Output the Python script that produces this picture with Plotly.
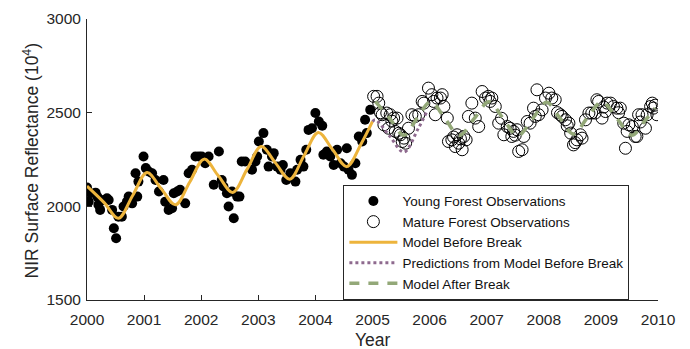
import plotly.graph_objects as go

# Young forest observations (2000-2005): decimal year, NIR reflectance (x10^4)
young_year = [2000.00, 2000.03, 2000.06, 2000.15, 2000.18, 2000.20, 2000.23, 2000.29, 2000.35, 2000.38,
              2000.44, 2000.47, 2000.51, 2000.55, 2000.61, 2000.64, 2000.70, 2000.73, 2000.79, 2000.85,
              2000.88, 2000.90, 2000.99, 2001.03, 2001.08, 2001.14, 2001.20, 2001.26, 2001.34, 2001.37,
              2001.43, 2001.49, 2001.52, 2001.58, 2001.63, 2001.72, 2001.78, 2001.84, 2001.90, 2001.96,
              2002.01, 2002.07, 2002.13, 2002.22, 2002.31, 2002.36, 2002.39, 2002.45, 2002.48, 2002.54,
              2002.57, 2002.63, 2002.67, 2002.71, 2002.77, 2002.89, 2002.95, 2002.98, 2003.01, 2003.09,
              2003.15, 2003.18, 2003.24, 2003.27, 2003.33, 2003.39, 2003.43, 2003.49, 2003.56, 2003.65,
              2003.68, 2003.74, 2003.79, 2003.84, 2003.88, 2003.94, 2004.00, 2004.06, 2004.12, 2004.14,
              2004.20, 2004.26, 2004.32, 2004.38, 2004.44, 2004.50, 2004.55, 2004.58, 2004.64, 2004.70,
              2004.76, 2004.82, 2004.87, 2004.90, 2004.96]
young_nir = [2100, 2025, 2070, 2073, 2052, 2008, 1981, 2034, 2043, 2034,
             1981, 1883, 1830, 1945, 1945, 1999, 2025, 2052, 2016, 2177,
             2052, 2132, 2266, 2204, 2186, 2177, 2141, 2079, 2141, 2025,
             1981, 1990, 2070, 2079, 2088, 2016, 2177, 2195, 2266, 2266,
             2266, 2230, 2266, 2115, 2293, 2141, 2106, 2070, 1999, 2079,
             1936, 2052, 2052, 2239, 2239, 2195, 2239, 2266, 2346, 2391,
             2302, 2212, 2266, 2284, 2212, 2195, 2221, 2141, 2177, 2132,
             2195, 2248, 2212, 2302, 2408, 2417, 2498, 2453, 2430, 2275,
             2293, 2266, 2221, 2302, 2230, 2212, 2310, 2195, 2168, 2230,
             2373, 2346, 2462, 2391, 2515]

# Mature forest observations (2005-2010)
mature_year = [2005.02, 2005.08, 2005.11, 2005.14, 2005.17, 2005.20, 2005.25, 2005.28, 2005.31, 2005.34,
               2005.37, 2005.40, 2005.43, 2005.46, 2005.49, 2005.52, 2005.55, 2005.58, 2005.63, 2005.69,
               2005.75, 2005.81, 2005.87, 2005.90, 2005.98, 2006.04, 2006.07, 2006.10, 2006.13, 2006.19,
               2006.22, 2006.25, 2006.31, 2006.33, 2006.39, 2006.42, 2006.45, 2006.48, 2006.51, 2006.54,
               2006.57, 2006.60, 2006.64, 2006.68, 2006.74, 2006.80, 2006.86, 2006.92, 2006.98, 2007.03,
               2007.06, 2007.09, 2007.15, 2007.21, 2007.26, 2007.30, 2007.36, 2007.41, 2007.44, 2007.47,
               2007.50, 2007.53, 2007.56, 2007.62, 2007.65, 2007.71, 2007.76, 2007.82, 2007.85, 2007.88,
               2007.91, 2007.97, 2008.03, 2008.09, 2008.14, 2008.20, 2008.24, 2008.29, 2008.32, 2008.38,
               2008.41, 2008.44, 2008.47, 2008.52, 2008.55, 2008.58, 2008.64, 2008.67, 2008.73, 2008.79,
               2008.84, 2008.90, 2008.93, 2008.96, 2009.02, 2009.05, 2009.08, 2009.11, 2009.17, 2009.22,
               2009.28, 2009.31, 2009.34, 2009.40, 2009.43, 2009.46, 2009.49, 2009.55, 2009.60, 2009.63,
               2009.66, 2009.69, 2009.72, 2009.78, 2009.81, 2009.87, 2009.90, 2009.92, 2009.95, 2009.98]
mature_nir = [2587, 2587, 2551, 2500, 2489, 2435, 2498, 2417, 2489, 2455,
              2471, 2400, 2471, 2390, 2382, 2346, 2364, 2337, 2417, 2489,
              2480, 2489, 2560, 2551, 2631, 2596, 2560, 2489, 2578, 2578,
              2596, 2533, 2471, 2346, 2355, 2370, 2319, 2382, 2337, 2360,
              2302, 2373, 2355, 2480, 2551, 2471, 2426, 2613, 2578, 2587,
              2560, 2578, 2533, 2444, 2470, 2382, 2426, 2417, 2373, 2400,
              2380, 2409, 2293, 2302, 2373, 2453, 2444, 2524, 2480, 2622,
              2489, 2515, 2578, 2604, 2578, 2569, 2500, 2489, 2480, 2462,
              2430, 2444, 2391, 2328, 2340, 2355, 2382, 2364, 2462, 2498,
              2498, 2498, 2569, 2560, 2471, 2530, 2506, 2551, 2551, 2533,
              2524, 2500, 2524, 2444, 2310, 2400, 2435, 2426, 2373, 2373,
              2489, 2450, 2489, 2417, 2489, 2533, 2551, 2524, 2540, 2489]

# Harmonic model fitted before the break (peaks, troughs and mid-points)
before_year = [2000.00, 2000.30, 2000.55, 2000.80, 2001.05, 2001.30, 2001.55, 2001.80, 2002.05, 2002.30,
               2002.55, 2002.80, 2003.05, 2003.30, 2003.55, 2003.80, 2004.05, 2004.30, 2004.55, 2004.80,
               2005.00]
before_nir = [2108, 2020, 1936, 2058, 2180, 2094, 2008, 2130, 2252, 2163,
              2074, 2196, 2319, 2232, 2145, 2270, 2394, 2303, 2212, 2333,
              2453]

# Extrapolation of the pre-break model into 2005
pred_year = [2005.00, 2005.05, 2005.30, 2005.55, 2005.80, 2005.95]
pred_nir = [2453, 2462, 2375, 2290, 2415, 2505]

# Harmonic model fitted after the break
after_year = [2005.05, 2005.30, 2005.55, 2005.78, 2006.02, 2006.27, 2006.52, 2006.78, 2007.04, 2007.29,
              2007.54, 2007.80, 2008.05, 2008.28, 2008.52, 2008.76, 2009.02, 2009.28, 2009.54, 2009.78,
              2009.95]
after_nir = [2560, 2470, 2380, 2470, 2558, 2468, 2378, 2468, 2558, 2468,
             2376, 2466, 2555, 2472, 2386, 2472, 2558, 2470, 2380, 2460,
             2525]

x_ticks = [2000, 2001, 2002, 2003, 2004, 2005, 2006, 2007, 2008, 2009, 2010]
y_ticks = [1500, 2000, 2500, 3000]

AXIS_COLOR = "#262626"
FONT = "Liberation Sans, Arial, sans-serif"

fig = go.Figure()
fig.add_trace(go.Scatter(
    x=young_year, y=young_nir, mode="markers", name="Young Forest Observations",
    marker=dict(symbol="circle", size=10, color="black", line=dict(width=0)),
))
fig.add_trace(go.Scatter(
    x=mature_year, y=mature_nir, mode="markers", name="Mature Forest Observations",
    marker=dict(symbol="circle-open", size=12, color="black", line=dict(width=1)),
))
fig.add_trace(go.Scatter(
    x=before_year, y=before_nir, mode="lines", name="Model Before Break",
    line=dict(color="#EDB43C", width=3, shape="spline", smoothing=1.0),
))
fig.add_trace(go.Scatter(
    x=pred_year, y=pred_nir, mode="lines", name="Predictions from Model Before Break",
    line=dict(color="#8E6A8E", width=3, dash="dot", shape="spline", smoothing=1.0),
))
fig.add_trace(go.Scatter(
    x=after_year, y=after_nir, mode="lines", name="Model After Break",
    line=dict(color="#93A878", width=3.5, dash="10px,9px", shape="spline", smoothing=1.0),
))

fig.update_layout(
    width=690, height=349,
    margin=dict(l=87, r=32, t=19, b=49),
    paper_bgcolor="white", plot_bgcolor="white",
    font=dict(family=FONT, color=AXIS_COLOR),
    showlegend=True,
    legend=dict(
        x=0.449, y=0.41, xanchor="left", yanchor="top",
        bgcolor="white", bordercolor=AXIS_COLOR, borderwidth=1,
        font=dict(family=FONT, size=13.5, color="#111111"),
        itemwidth=48, tracegroupgap=0,
    ),
    xaxis=dict(
        range=[2000, 2010], tickvals=x_ticks, ticktext=[str(v) for v in x_ticks],
        showgrid=False, zeroline=False, showline=True, linecolor=AXIS_COLOR, linewidth=1,
        ticks="inside", ticklen=5, tickcolor=AXIS_COLOR, tickwidth=1,
        tickfont=dict(size=15.5, color=AXIS_COLOR), automargin=False,
        ticklabelstandoff=5,
    ),
    yaxis=dict(
        range=[1500, 3000], tickvals=y_ticks, ticktext=[str(v) for v in y_ticks],
        showgrid=False, zeroline=False, showline=True, linecolor=AXIS_COLOR, linewidth=1,
        ticks="inside", ticklen=5, tickcolor=AXIS_COLOR, tickwidth=1,
        tickfont=dict(size=15.5, color=AXIS_COLOR), automargin=False,
        ticklabelstandoff=2,
    ),
    annotations=[
        dict(text="Year", xref="paper", yref="paper", x=0.5, y=-0.142,
             xanchor="center", yanchor="middle", showarrow=False,
             font=dict(size=17.5, color=AXIS_COLOR)),
        dict(text="NIR Surface Reflectance (10<sup>4</sup>)", xref="paper", yref="paper",
             x=-0.099, y=0.495, xanchor="center", yanchor="middle", textangle=-90,
             showarrow=False, font=dict(size=17.5, color=AXIS_COLOR)),
    ],
)

fig.write_html("out.html")
